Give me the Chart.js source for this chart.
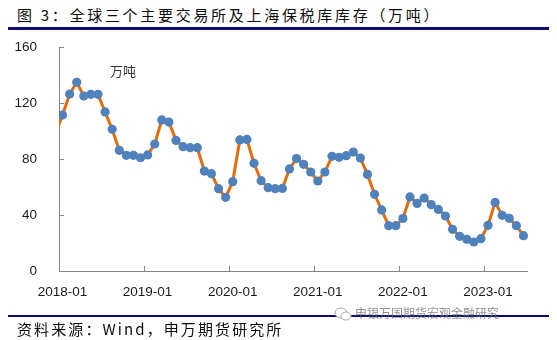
<!DOCTYPE html>
<html>
<head>
<meta charset="utf-8">
<script src="https://cdn.jsdelivr.net/npm/chart.js@4/dist/chart.umd.min.js"></script>
<style>
  html, body { margin: 0; padding: 0; background: #fff; }
  #wrap { position: relative; width: 557px; height: 340px; overflow: hidden; font-family: "Noto Sans CJK SC", sans-serif; }
  #chart { position: absolute; left: 0; top: 0; }
  .title { position: absolute; left: 17px; top: 4px; font-size: 15px; letter-spacing: 2.7px; color: #0d0d0d; line-height: 22px; white-space: nowrap; }
  .rule { position: absolute; left: 8px; width: 541px; background: #0c0c73; }
  .source { position: absolute; left: 17px; top: 318px; font-size: 15px; letter-spacing: 2.1px; color: #0d0d0d; line-height: 22px; white-space: nowrap; }
  .unit { position: absolute; left: 110px; top: 62px; font-size: 13px; color: #333; line-height: 18px; }
  .mark { position: absolute; left: 334px; top: 304px; font-size: 12px; color: rgba(110,110,110,0.75); white-space: nowrap; line-height: 18px; }
  .mark svg { vertical-align: -3px; margin-right: 3px; }
</style>
</head>
<body>
<div id="wrap">
  <div class="title">图 3：全球三个主要交易所及上海保税库库存（万吨）</div>
  <div class="rule" style="top:27px;height:3px"></div>
  <canvas id="chart" width="557" height="340"></canvas>
  <div class="unit">万吨</div>
  <div class="rule" style="top:315px;height:2px"></div>
  <div class="mark"><svg width="18" height="14" viewBox="0 0 18 14"><ellipse cx="7" cy="6" rx="6" ry="5" fill="#fff" stroke="#aaa" stroke-width="1"/><ellipse cx="12" cy="9" rx="5" ry="4" fill="#fff" stroke="#aaa" stroke-width="1"/></svg>申银万国期货宏观金融研究</div>
  <div class="source">资料来源：Wind，申万期货研究所</div>
</div>
<script>
// months, first one sits just left of the axis and only its line segment shows
var months = [
  '2017-12',
  '2018-01','2018-02','2018-03','2018-04','2018-05','2018-06','2018-07','2018-08','2018-09','2018-10','2018-11','2018-12',
  '2019-01','2019-02','2019-03','2019-04','2019-05','2019-06','2019-07','2019-08','2019-09','2019-10','2019-11','2019-12',
  '2020-01','2020-02','2020-03','2020-04','2020-05','2020-06','2020-07','2020-08','2020-09','2020-10','2020-11','2020-12',
  '2021-01','2021-02','2021-03','2021-04','2021-05','2021-06','2021-07','2021-08','2021-09','2021-10','2021-11','2021-12',
  '2022-01','2022-02','2022-03','2022-04','2022-05','2022-06','2022-07','2022-08','2022-09','2022-10','2022-11','2022-12',
  '2023-01','2023-02','2023-03','2023-04','2023-05','2023-06'
];
// inventory, 万吨
var stock = [
  98,
  111.4, 126.4, 134.8, 125.0, 126.2, 126.2, 113.6, 101.2, 86.2, 82.6, 82.6, 80.9,
  82.9, 90.7, 107.9, 106.4, 93.3, 88.8, 88.1, 88.1, 71.4, 69.5, 58.8, 52.6,
  63.8, 93.6, 94.0, 76.9, 64.5, 59.5, 58.8, 59.0, 72.9, 80.3, 76.2, 70.7,
  64.3, 70.7, 81.9, 81.2, 82.4, 85.0, 80.7, 69.0, 54.8, 43.6, 32.4, 32.4,
  37.5, 52.9, 48.3, 52.1, 47.4, 44.0, 39.3, 29.8, 24.8, 22.6, 20.7, 23.1,
  32.6, 49.0, 39.8, 37.6, 32.4, 25.2
];
var yTicks = [0, 40, 80, 120, 160];
var xTickIdx = [0, 12, 24, 36, 48, 60]; // band edges where each year starts

var pts = stock.map(function (v, i) { return {x: i - 0.5, y: v}; });

var axisGrey = '#868686';

// short tick marks pointing into the plot, like the office-style axes
var innerTicks = {
  id: 'innerTicks',
  afterDraw: function (chart) {
    var c = chart.ctx, a = chart.chartArea;
    var xs = chart.scales.x, ys = chart.scales.y;
    c.save();
    c.strokeStyle = axisGrey;
    c.lineWidth = 1;
    c.beginPath();
    yTicks.forEach(function (t) {
      var py = Math.round(ys.getPixelForValue(t)) + 0.5;
      c.moveTo(a.left, py); c.lineTo(a.left + 5, py);
    });
    xTickIdx.forEach(function (t) {
      var px = Math.round(xs.getPixelForValue(t)) + 0.5;
      c.moveTo(px, a.bottom); c.lineTo(px, a.bottom - 5);
    });
    c.stroke();
    c.restore();
  }
};

new Chart(document.getElementById('chart').getContext('2d'), {
  type: 'line',
  data: {
    datasets: [{
      data: pts,
      borderColor: '#E46C0A',
      borderWidth: 3,
      tension: 0,
      pointRadius: function (ctx) { return ctx.dataIndex === 0 ? 0 : 4.6; },
      pointBackgroundColor: '#4F81BD',
      pointBorderWidth: 0,
      pointHoverRadius: 0,
      clip: {left: 0, top: false, right: false, bottom: false}
    }]
  },
  options: {
    responsive: false,
    animation: false,
    layout: {padding: {left: 0, top: 47, right: 30, bottom: 39}},
    plugins: {legend: {display: false}, tooltip: {enabled: false}},
    scales: {
      x: {
        type: 'linear',
        min: 0,
        max: 66,
        afterFit: function (s) { s.height = 30; },
        afterBuildTicks: function (s) { s.ticks = xTickIdx.map(function (v) { return {value: v}; }); },
        grid: {display: false},
        border: {color: axisGrey, width: 1},
        ticks: {
          padding: 5,
          labelOffset: 3.5,
          maxRotation: 0,
          color: '#1a1a1a',
          font: {family: 'Liberation Sans', size: 13.5},
          callback: function (v) { return months[v + 1]; }
        }
      },
      y: {
        min: 0,
        max: 160,
        afterFit: function (s) { s.width = 59; },
        afterBuildTicks: function (s) { s.ticks = yTicks.map(function (v) { return {value: v}; }); },
        grid: {display: false},
        border: {color: axisGrey, width: 1},
        ticks: {
          padding: 14,
          color: '#1a1a1a',
          font: {family: 'Liberation Sans', size: 13.5}
        }
      }
    }
  },
  plugins: [innerTicks]
});
</script>
</body>
</html>
